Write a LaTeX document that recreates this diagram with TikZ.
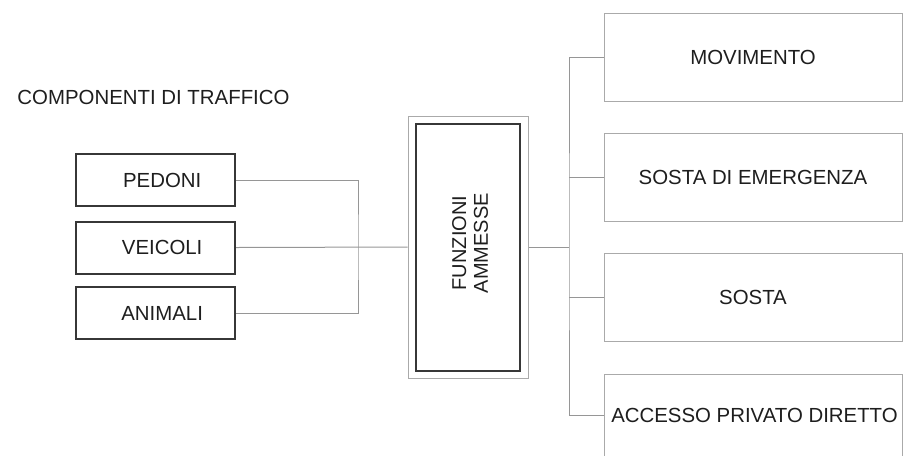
\documentclass[tikz,border=0pt]{standalone}
\usepackage{fontspec}
\setmainfont{Liberation Sans}

\definecolor{lineGray}{RGB}{150,150,150}
\definecolor{boxGray}{RGB}{170,170,170}
\definecolor{darkBox}{RGB}{55,55,55}
\definecolor{txtGray}{RGB}{30,30,30}

\tikzset{every picture/.style={line width=0.75pt}}
\tikzset{
  compbox/.style={draw=darkBox, line width=1.5, inner sep=0pt, minimum width=119.25pt, minimum height=39pt, text=txtGray},
  funzbox/.style={draw=boxGray, line width=0.75, fill=white, inner sep=0pt, minimum width=223.5pt, minimum height=66pt, text=txtGray},
  conn/.style={draw=lineGray, line width=0.75}
}

\begin{document}
\begin{tikzpicture}[x=0.75pt,y=0.75pt,yscale=-1,xscale=1,font=\fontsize{15.3}{17}\selectfont]
\clip (0,0) rectangle (904,455); %set diagram size 904 x 455

% Text Node
\node [anchor=west, inner sep=0pt, text=txtGray] (titolo) at (17,97) {COMPONENTI DI TRAFFICO};

%Shape: Rectangle (components)
\node [compbox] (pedoni) at (155.5,180) {\hspace{10pt}PEDONI};
\node [compbox] (veicoli) at (155.5,247.5) {\hspace{10pt}VEICOLI};
\node [compbox] (animali) at (155.5,313) {\hspace{10pt}ANIMALI};

%Shape: Rectangle (central box, double frame)
\node [draw=boxGray, line width=0.75, inner sep=0pt, minimum width=90pt, minimum height=196.5pt] (funzout) at (468,247) {};
\node [draw=darkBox, line width=2, inner sep=0pt, minimum width=78pt, minimum height=185.25pt] (funzin) at (468,247.5) {};
% Text Node
\node [rotate=90, align=center, inner sep=0pt, text=txtGray, font=\fontsize{15}{16.3}\selectfont] (funzlbl) at (470,243) {FUNZIONI\\AMMESSE};

%Shape: Rectangle (functions)
\node [funzbox] (movimento) at (753,57) {MOVIMENTO};
\node [funzbox] (emergenza) at (753,177.5) {SOSTA DI EMERGENZA};
\node [funzbox] (sosta) at (753,297.5) {SOSTA};
\node [funzbox] (accesso) at (753,418) {};
\node [inner sep=0pt, text=txtGray] (accessolbl) at (754.5,415) {ACCESSO PRIVATO DIRETTO};

% junctions
\coordinate (jsx) at (358,247.5);
\coordinate (jdx) at (569,247);

%Straight Lines
\draw [conn] (pedoni.east) -| (jsx) |- (animali.east);
\draw [conn] (veicoli.east) -- (funzout.west);
\draw [conn] (funzout.east) -- (jdx);
\draw [conn] (movimento.west) -| (jdx) |- (accessolbl.west -| accesso.west);
\draw [conn] (emergenza.west) -- (emergenza.west -| jdx);
\draw [conn] (sosta.west) -- (sosta.west -| jdx);

\end{tikzpicture}
\end{document}
